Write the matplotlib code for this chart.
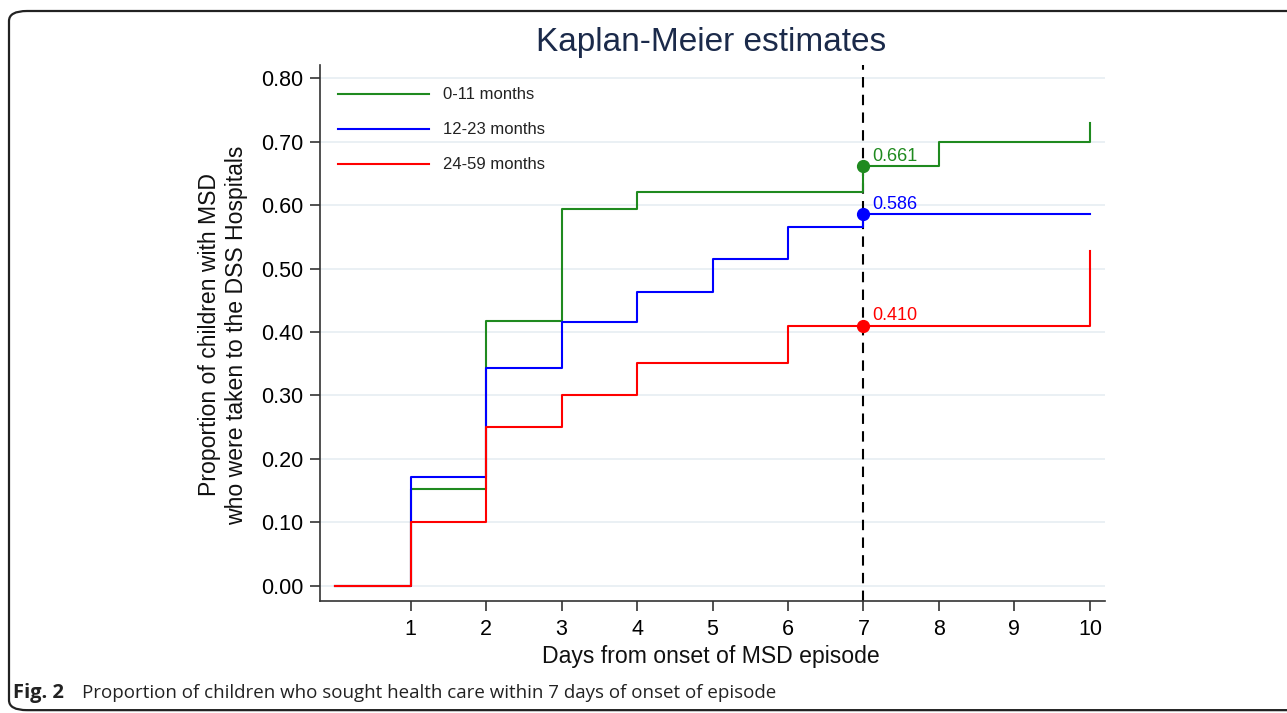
import matplotlib.pyplot as plt
from matplotlib.patches import FancyBboxPatch

# Kaplan-Meier step values
days = [0, 1, 2, 3, 4, 5, 6, 7, 8, 9, 10]
km_0_11 = [0.0, 0.153, 0.418, 0.594, 0.620, 0.620, 0.620, 0.661, 0.700, 0.700, 0.730]
km_12_23 = [0.0, 0.171, 0.343, 0.416, 0.463, 0.515, 0.565, 0.586, 0.586, 0.586, 0.586]
km_24_59 = [0.0, 0.100, 0.250, 0.300, 0.351, 0.351, 0.410, 0.410, 0.410, 0.410, 0.528]
labels = ['0-11 months', '12-23 months', '24-59 months']
colors = ['#1f8a1f', '#0000ff', '#ff0000']
cutoff_day = 7
yticks = [0.0, 0.1, 0.2, 0.3, 0.4, 0.5, 0.6, 0.7, 0.8]
xticks = [1, 2, 3, 4, 5, 6, 7, 8, 9, 10]

plt.rcParams['font.family'] = ['Liberation Sans', 'DejaVu Sans']

W, H = 1287, 713
fig = plt.figure(figsize=(W / 100, H / 100), dpi=100)

# rounded frame around the whole figure
frame = FancyBboxPatch((9 / W, 0.004), 1.2, 1 - 11 / H - 0.004,
                       boxstyle='round,pad=0,rounding_size=0.014',
                       transform=fig.transFigure, fill=False,
                       ec='#222222', lw=1.6, clip_on=False)
fig.patches.append(frame)

ax = fig.add_axes([320 / W, 1 - 601 / H, 785 / W, 536 / H])

for ys, lab, c in zip([km_0_11, km_12_23, km_24_59], labels, colors):
    ax.step(days, ys, where='post', color=c, lw=1.5, label=lab, zorder=3)
    v = ys[days.index(cutoff_day)]
    ax.plot(cutoff_day, v, 'o', color=c, ms=8.5, zorder=4)
    ax.annotate(f'{v:.3f}', xy=(cutoff_day, v), xytext=(6, 7),
                textcoords='offset points', color=c, fontsize=13,
                ha='left', va='center', zorder=5)

ax.axvline(cutoff_day, color='black', lw=1.5, ls=(0, (5, 3.5)), zorder=2)

ax.set_xlim(-0.2, 10.2)
ax.set_ylim(-0.024, 0.821)
ax.set_xticks(xticks)
ax.set_yticks(yticks)
ax.set_yticklabels([f'{t:.2f}' for t in yticks])
ax.tick_params(axis='both', labelsize=15.5, length=7, width=1.2,
               color='#333333', direction='out')
ax.tick_params(axis='y', pad=5)
ax.tick_params(axis='x', pad=6)
for t in yticks:
    ax.axhline(t, color='#e6edf2', lw=1.2, zorder=1)

for s in ['top', 'right']:
    ax.spines[s].set_visible(False)
for s in ['left', 'bottom']:
    ax.spines[s].set_color('#333333')
    ax.spines[s].set_linewidth(1.2)

leg = ax.legend(loc='upper left', bbox_to_anchor=(0.008, 0.98), frameon=False,
                fontsize=12, handlelength=5.45, handletextpad=0.85,
                labelspacing=1.2, borderaxespad=0.3)
for t in leg.get_texts():
    t.set_color('#222222')

fig.text(711 / W, 1 - 42 / H, 'Kaplan-Meier estimates', ha='center', va='center',
         fontsize=24, color='#1b2a4a')
fig.text(711 / W, 1 - 657 / H, 'Days from onset of MSD episode', ha='center',
         va='center', fontsize=16.6, color='#111111')
fig.text(223 / W, 1 - 335 / H,
         'Proportion of children with MSD\nwho were taken to the DSS Hospitals',
         ha='center', va='center', rotation=90, fontsize=16.6, color='#111111',
         linespacing=1.2)

fig.text(13 / W, 1 - 693 / H, 'Fig. 2', ha='left', va='center', fontsize=14.5,
         fontweight='bold', family=['Open Sans', 'DejaVu Sans'], color='#222222')
fig.text(82 / W, 1 - 693 / H,
         'Proportion of children who sought health care within 7 days of onset of episode',
         ha='left', va='center', fontsize=13.5, family=['Open Sans', 'DejaVu Sans'],
         color='#222222')

fig.savefig('out.png', dpi=100)
